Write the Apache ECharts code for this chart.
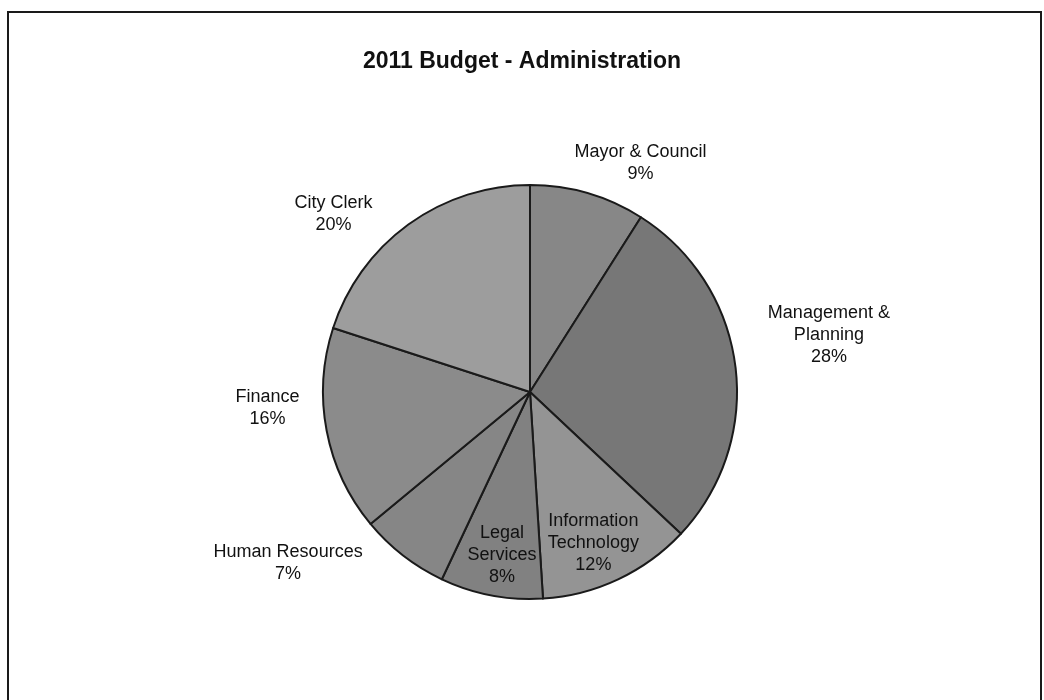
<!DOCTYPE html>
<html>
<head>
<meta charset="utf-8">
<title>2011 Budget - Administration</title>
<script src="https://cdn.jsdelivr.net/npm/echarts@6/dist/echarts.min.js"></script>
<style>
  html, body { margin: 0; padding: 0; background: #ffffff; }
  #chart { position: absolute; left: 0; top: 0; width: 1044px; height: 700px; }
  #frame {
    position: absolute; left: 7px; top: 11px; width: 1031px; height: 700px;
    border: 2px solid #1a1a1a; border-bottom: none; pointer-events: none;
  }
</style>
</head>
<body>
<div id="chart"></div>
<div id="frame"></div>
<script>
// Administration budget shares, in percent, clockwise from 12 o'clock
const departments = [
  'Mayor & Council',
  'Management &\nPlanning',
  'Information\nTechnology',
  'Legal\nServices',
  'Human Resources',
  'Finance',
  'City Clerk'
];
const shares = [9, 28, 12, 8, 7, 16, 20];
const sliceGreys = ['#878787', '#777777', '#949494', '#818181', '#868686', '#8b8b8b', '#9d9d9d'];

// label placement: angular shift from the slice middle (deg) and distance as a share of radius
const labelTurn  = [9.5, -3.6, 2.4, -1.1, 17, 7.3, -11.9];
const labelReach = [1.23, 1.47, 0.79, 0.80, 1.43, 1.27, 1.28];

const CX = 530, CY = 392, R = 207;

const total = shares.reduce((a, b) => a + b, 0);
const midAngles = [];
let acc = 0;
shares.forEach(v => { midAngles.push((acc + v / 2) / total * 360); acc += v; });

const chart = echarts.init(document.getElementById('chart'), null, { renderer: 'canvas' });
chart.setOption({
  backgroundColor: '#ffffff',
  animation: false,
  title: {
    text: '2011 Budget - Administration',
    left: 'center',
    top: 45,
    textStyle: {
      fontFamily: '"Liberation Sans", Arial, sans-serif',
      fontSize: 23,
      fontWeight: 'bold',
      color: '#111111'
    }
  },
  series: [{
    type: 'pie',
    center: [CX, CY],
    radius: R,
    startAngle: 90,
    clockwise: true,
    avoidLabelOverlap: false,
    itemStyle: { borderColor: '#1a1a1a', borderWidth: 2 },
    label: {
      show: true,
      position: 'outside',
      fontFamily: '"Liberation Sans", Arial, sans-serif',
      fontSize: 18,
      lineHeight: 22,
      color: '#111111',
      align: 'center',
      formatter: p => p.name + '\n' + Math.round(p.percent) + '%'
    },
    labelLine: { show: false },
    labelLayout: params => {
      const i = params.dataIndex;
      const a = (midAngles[i] + labelTurn[i]) * Math.PI / 180;
      const d = R * labelReach[i];
      return {
        x: CX + d * Math.sin(a),
        y: CY - d * Math.cos(a),
        align: 'center',
        verticalAlign: 'middle'
      };
    },
    emphasis: { disabled: true },
    data: departments.map((name, i) => ({
      name: name,
      value: shares[i],
      itemStyle: { color: sliceGreys[i] }
    }))
  }]
});
</script>
</body>
</html>
